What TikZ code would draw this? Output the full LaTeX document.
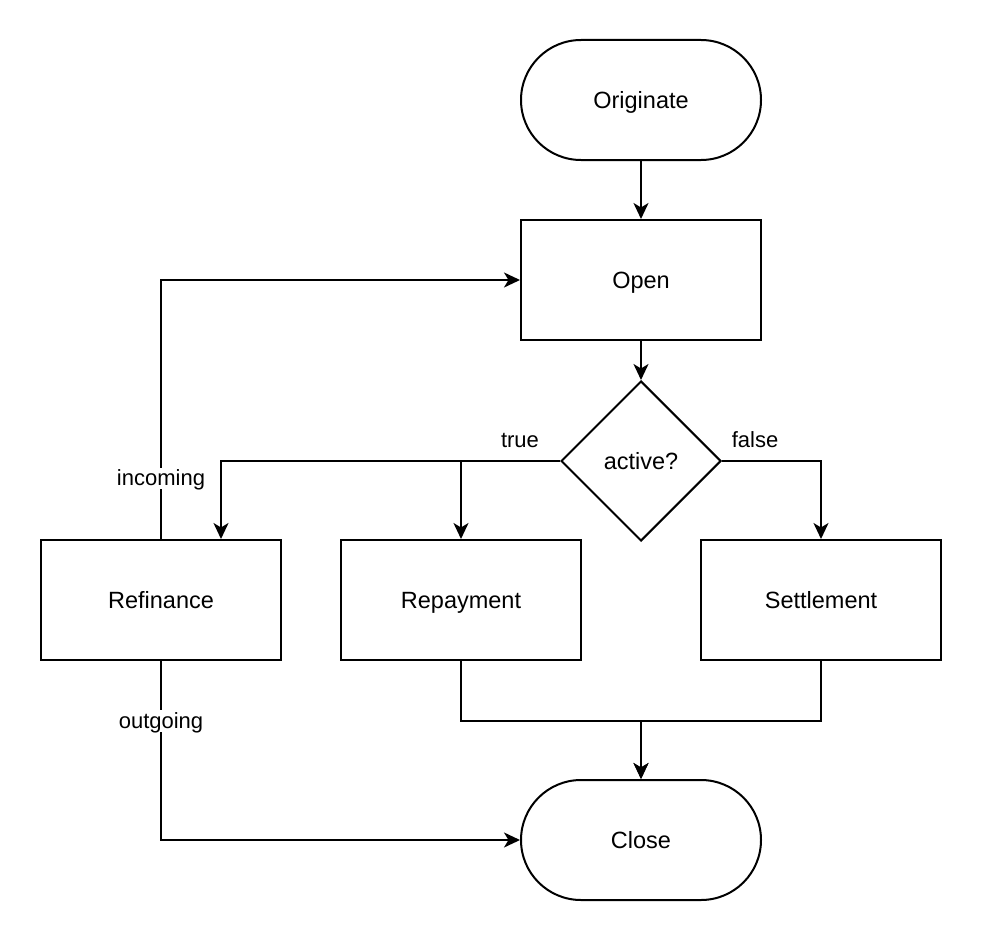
\documentclass[tikz,border=0pt]{standalone}
\usepackage{fontspec}
\setmainfont{Liberation Sans}
\usetikzlibrary{shapes.geometric,arrows.meta}
\tikzset{
  base/.style={draw, line width=2pt, minimum width=240pt, minimum height=120pt, inner sep=0pt,
    font=\fontsize{23.5}{28}\selectfont, text height=18pt, text depth=1.5pt},
  procbox/.style={base, rectangle},
  termbox/.style={base, rectangle, rounded corners=60pt},
  decbox/.style={draw, line width=2pt, diamond, aspect=1, minimum size=160pt, inner sep=0pt,
    font=\fontsize{23.5}{28}\selectfont, text height=18pt, text depth=1.5pt},
  conn/.style={line width=2pt, -{Stealth[length=16pt,width=15pt,inset=4.5pt]}},
  lbl/.style={font=\fontsize{22}{26}\selectfont, inner sep=2pt, text height=16pt, text depth=1.5pt},
  lblbg/.style={lbl, fill=white}
}
\begin{document}
\begin{tikzpicture}[x=1pt,y=-1pt]
\useasboundingbox (0,0) rectangle (982,942);
\node[termbox] (orig) at (641,100) {Originate};
\node[procbox] (open) at (641,280) {Open};
\node[decbox] (dec) at (641,461) {active?};
\node[procbox] (ref) at (161,600) {Refinance};
\node[procbox] (rep) at (461,600) {Repayment};
\node[procbox] (set) at (821,600) {Settlement};
\node[termbox] (close) at (641,840) {Close};

\draw[conn] (orig) -- (open);
\draw[conn] (open) -- (dec);
\draw[conn] (dec.west) -| ([xshift=60pt]ref.north);
\draw[conn] (dec.west) -| (rep.north);
\draw[conn] (dec.east) -| (set.north);
\draw[conn] (ref.north) |- node[lblbg, pos=0.117] (lin) {incoming} (open.west);
\draw[conn] (ref.south) |- node[lblbg, pos=0.167] (lout) {outgoing} (close.west);
\draw[conn] (rep.south) -- ++(0,60) -| (close.north);
\draw[conn] (set.south) -- ++(0,60) -| (close.north);

\node[lbl] (ltrue) at (520,440) {true};
\node[lbl] (lfalse) at (755,440) {false};
\end{tikzpicture}
\end{document}
